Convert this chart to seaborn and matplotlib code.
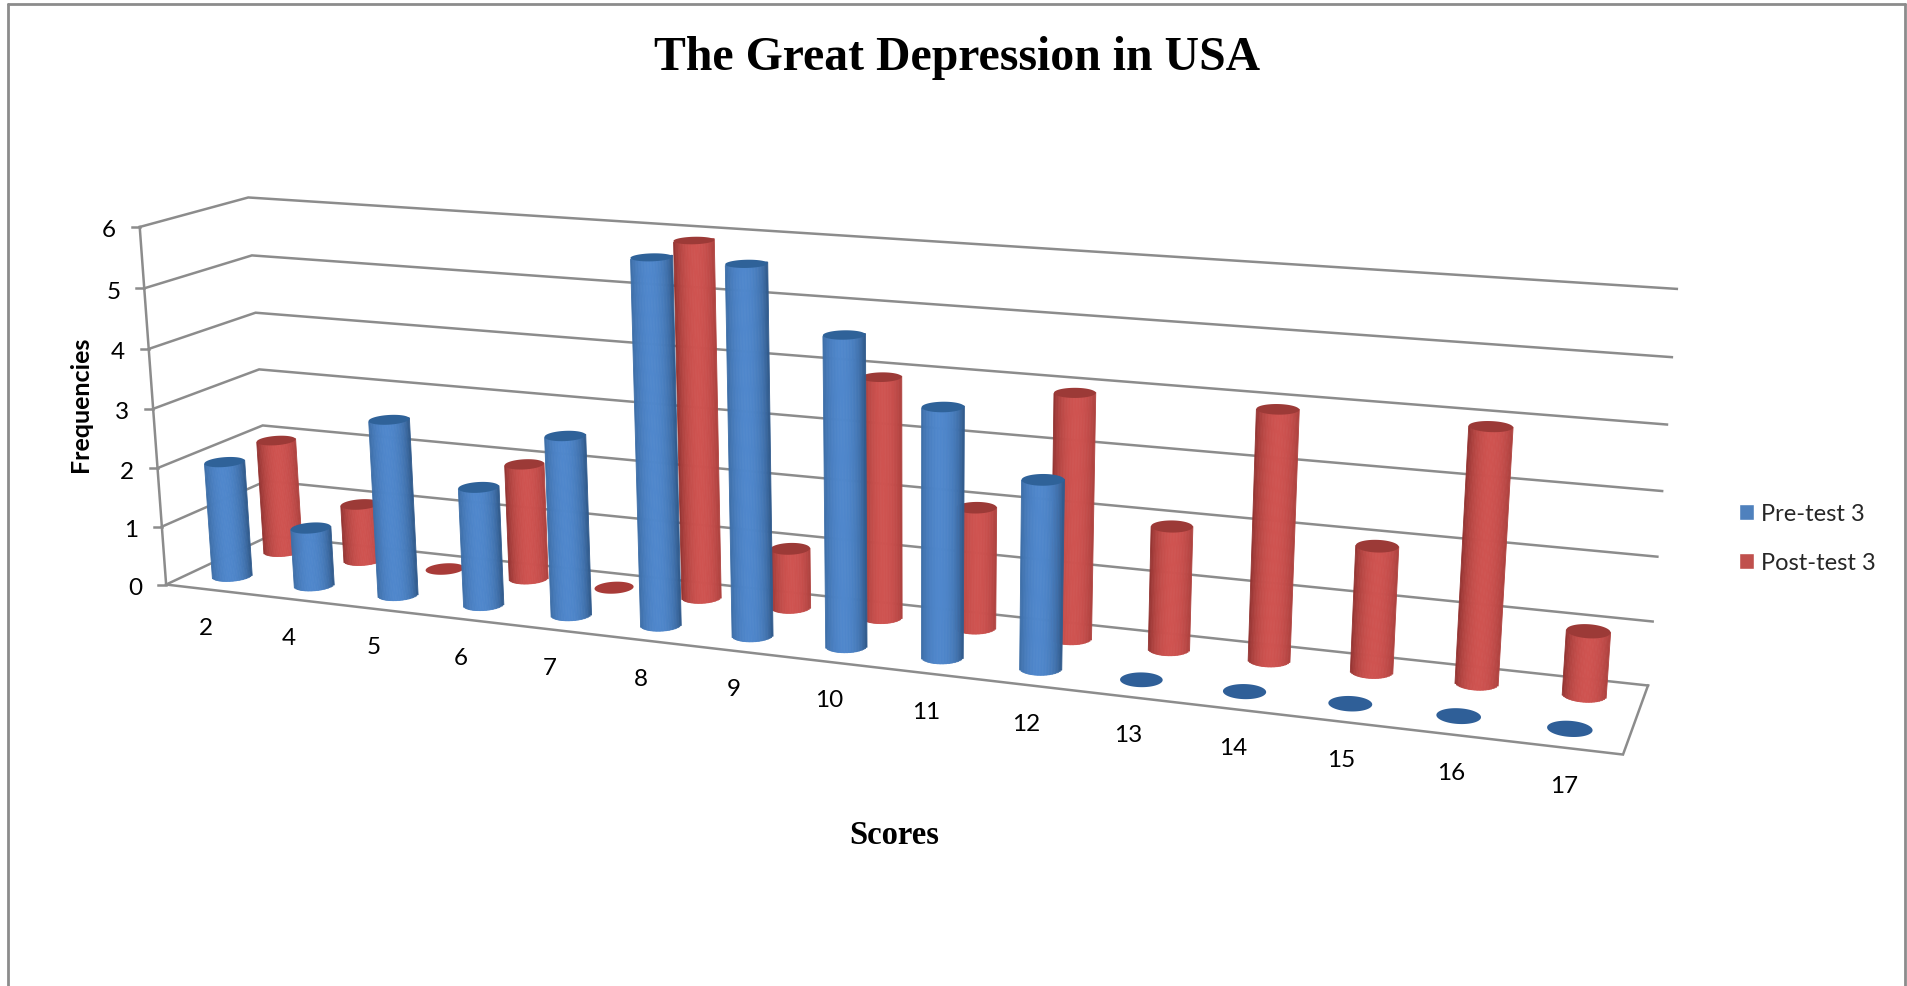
import numpy as np
import pandas as pd
import matplotlib
matplotlib.use("Agg")
import matplotlib.pyplot as plt
from matplotlib.colors import to_rgb
from matplotlib.lines import Line2D
from matplotlib.patches import Patch, Polygon
from matplotlib.transforms import Transform
import seaborn as sns

# Chart values
scores = ["2", "4", "5", "6", "7", "8", "9", "10", "11", "12", "13", "14", "15", "16", "17"]
pre_test = [2, 1, 3, 2, 3, 6, 6, 5, 4, 3, 0, 0, 0, 0, 0]
post_test = [2, 1, 0, 2, 0, 6, 1, 4, 2, 4, 2, 4, 2, 4, 1]
freq_ticks = [0, 1, 2, 3, 4, 5, 6]
series_names = ["Pre-test 3", "Post-test 3"]

WIDTH, HEIGHT = 1908, 987
X_SHIFT = 0.47          # bar centre within its category slot
R_X, R_D = 0.20, 0.11   # cylinder radius along the category and depth directions
DEPTH_PRE, DEPTH_POST = 0.26, 0.76
BAR_RISE = 0.985        # cylinders stop just short of the wall's gridlines
N_STRIPS = 28

sns.set_theme(style="white")
plt.rcParams["font.family"] = ["Lato", "DejaVu Sans"]

# Calibration of the oblique view: (category, depth, frequency) -> pixel position
view_world = np.array([
    (0, 0, 0), (0, 0, 3), (0, 0, 6), (0, 1, 6), (0, 1, 3), (0, 1, 0),
    (15, 0, 0), (15, 1, 0), (15, 1, 3), (15, 1, 6),
], dtype=float)
view_pixel = np.array([
    (166, 585), (153, 410), (140, 228), (248, 199), (259, 369), (270, 538),
    (1623, 756), (1648, 686), (1662, 492), (1677, 290),
], dtype=float)


def solve_camera(world, pixel):
    rows, rhs = [], []
    for (x, d, v), (px, py) in zip(world, pixel):
        rows.append([x, d, v, 1, 0, 0, 0, 0, -px * x, -px * d, -px * v])
        rhs.append(px)
        rows.append([0, 0, 0, 0, x, d, v, 1, -py * x, -py * d, -py * v])
        rhs.append(py)
    sol = np.linalg.lstsq(np.array(rows), np.array(rhs), rcond=None)[0]
    return np.append(sol, 1.0).reshape(3, 4)


CAMERA = solve_camera(view_world, view_pixel)


def project(x, d, v):
    """Map chart coordinates to figure fractions."""
    x, d, v = np.broadcast_arrays(np.asarray(x, float), np.asarray(d, float), np.asarray(v, float))
    hom = np.stack([x, d, v, np.ones_like(x)], axis=-1) @ CAMERA.T
    return np.stack([hom[..., 0] / hom[..., 2] / WIDTH,
                     1 - hom[..., 1] / hom[..., 2] / HEIGHT], axis=-1)


def rim_profile(slot, depth):
    """Half width of a cylinder in its mid-depth plane, and its lower rim as (x offset, v offset)."""
    step = 0.01
    x0 = slot + X_SHIFT
    origin = project(x0, depth, 0)
    along_x = (project(x0 + step, depth, 0) - origin) / step
    along_v = (project(x0, depth, step) - origin) / step
    along_d = (project(x0, depth + step, 0) - origin) / step
    a, b = np.linalg.solve(np.column_stack([along_x, along_v]), along_d)
    start = np.arctan2(a * R_D, R_X)
    theta = np.linspace(start - np.pi, start, 90)
    rim_x = R_X * np.cos(theta) + a * R_D * np.sin(theta)
    rim_v = b * R_D * np.sin(theta)
    return np.hypot(R_X, a * R_D), rim_x, rim_v


class DepthSlice(Transform):
    """Category/frequency plane at a fixed depth, seen through the oblique view."""
    input_dims = 2
    output_dims = 2

    def __init__(self, plane_depth):
        super().__init__()
        self.plane_depth = plane_depth

    def transform_non_affine(self, values):
        values = np.asarray(values, float)
        return project(values[:, 0] + X_SHIFT, self.plane_depth, values[:, 1] * BAR_RISE)


def cylinder_shades(edge, mid, peak):
    edge, mid = np.array(to_rgb(edge)), np.array(to_rgb(mid))
    u = (np.arange(N_STRIPS) + 0.5) / N_STRIPS * 2 - 1
    t = np.clip(1 - ((u - peak) / (1 + abs(peak))) ** 2, 0, 1) ** 0.7
    return [tuple(edge + (mid - edge) * k) for k in t]


fig = plt.figure(figsize=(WIDTH / 100, HEIGHT / 100), dpi=100, facecolor="white")
ax = fig.add_axes([0, 0, 1, 1])


def fig_line(xs, ys, color="#8c8c8c", lw=1.8, z=1):
    ax.plot(xs, ys, color=color, lw=lw, transform=fig.transFigure, clip_on=False,
            zorder=z, solid_capstyle="projecting", solid_joinstyle="miter")


def draw_series(values, depth, shades, cap_color, zero_color, z):
    strips = [f"s{k}" for k in range(N_STRIPS)]
    table = pd.DataFrame({
        "score": np.repeat(scores, N_STRIPS),
        "strip": strips * len(scores),
        "freq": np.repeat(values, N_STRIPS),
    })
    first = len(ax.patches)
    sns.barplot(data=table, x="score", y="freq", hue="strip", order=scores, hue_order=strips,
                palette=shades, dodge=True, width=2 * R_X, gap=0, saturation=1,
                errorbar=None, legend=False, ax=ax)
    # Every strip follows the lower rim of its cylinder and ends beneath the cap
    for rect in ax.patches[first:]:
        if rect.get_height() <= 0:
            rect.set_visible(False)
            continue
        centre = rect.get_x() + rect.get_width() / 2
        slot = round(centre)
        half, rim_x, rim_v = rim_profile(slot, depth)
        scale = half / R_X
        new_width = rect.get_width() * scale
        offset = (centre - slot) * scale
        lower = np.interp(offset, rim_x, rim_v)
        upper = -np.interp(-offset, rim_x, rim_v)
        rect.set_x(slot + offset - new_width / 2)
        rect.set_width(new_width)
        rect.set_y(lower)
        rect.set_height(rect.get_height() + (upper - lower) / 2)
        rect.set_transform(DepthSlice(depth) + fig.transFigure)
        rect.set_clip_on(False)
        rect.set_edgecolor(rect.get_facecolor())
        rect.set_linewidth(0.6)
        rect.set_zorder(z)
    # Elliptical caps, and flat discs for empty categories
    theta = np.linspace(0, 2 * np.pi, 80)
    for i, val in enumerate(values):
        outline = project(i + X_SHIFT + R_X * np.cos(theta), depth + R_D * np.sin(theta),
                          val * BAR_RISE)
        ax.add_patch(Polygon(outline, closed=True, transform=fig.transFigure, clip_on=False,
                             facecolor=cap_color if val > 0 else zero_color,
                             edgecolor="none", zorder=z + 0.1))


draw_series(post_test, DEPTH_POST, cylinder_shades("#8a2f2d", "#cf5350", 0.12),
            "#9c3a37", "#a83b38", 3)
draw_series(pre_test, DEPTH_PRE, cylinder_shades("#2d5583", "#4f87cc", -0.1),
            "#2f6299", "#2f5f98", 5)
ax.set_axis_off()

# Walls and floor
n_cat = len(scores)
for level in freq_ticks:
    left_front, left_back = project(0, 0, level), project(0, 1, level)
    right_back = project(n_cat, 1, level)
    fig_line([left_front[0], left_back[0], right_back[0]],
             [left_front[1], left_back[1], right_back[1]])
    tick_end = left_front[0] - 8 / WIDTH
    fig_line([tick_end, left_front[0]], [left_front[1], left_front[1]])
    ax.text(left_front[0] - 31 / WIDTH, left_front[1] - 3 / HEIGHT, str(level), fontsize=17.5,
            color="black", ha="center", va="center", transform=fig.transFigure)

axis_pts = np.array([project(0, 0, freq_ticks[0]), project(0, 0, freq_ticks[-1])])
fig_line(axis_pts[:, 0], axis_pts[:, 1])
floor_pts = np.array([project(0, 0, 0), project(n_cat, 0, 0), project(n_cat, 1, 0)])
fig_line(floor_pts[:, 0], floor_pts[:, 1])

# Category labels below the front edge
for i, label in enumerate(scores):
    px, py = project(i + 0.5, 0, 0)
    ax.text(px - 1 / WIDTH, py - 38 / HEIGHT, label, fontsize=17.5, color="black",
            ha="center", va="center", transform=fig.transFigure)

# Titles
fig.text(957 / WIDTH, 1 - 58 / HEIGHT, "The Great Depression in USA", family="Liberation Serif",
         weight="bold", fontsize=34.4, color="black", ha="center", va="center")
fig.text(894 / WIDTH, 1 - 836 / HEIGHT, "Scores", family="Liberation Serif", weight="bold",
         fontsize=23.5, color="black", ha="center", va="center")
fig.text(80 / WIDTH, 1 - 404 / HEIGHT, "Frequencies", weight="bold", fontsize=18,
         color="black", ha="center", va="center", rotation=90)

# Legend
handles = [Patch(facecolor="#4f81bd", label=series_names[0]),
           Patch(facecolor="#c0504d", label=series_names[1])]
fig.legend(handles=handles, loc="upper left", bbox_to_anchor=(1732 / WIDTH, 1 - 497 / HEIGHT),
           frameon=False, fontsize=17, handlelength=0.63, handleheight=0.63,
           handletextpad=0.3, labelspacing=1.2, borderaxespad=0, borderpad=0.3)

# Outer frame, open along the bottom
for xs, ys in [((8, 8), (HEIGHT, 5)), ((8, 1905), (5, 5)), ((1905, 1905), (5, HEIGHT))]:
    fig.add_artist(Line2D(np.array(xs) / WIDTH, 1 - np.array(ys) / HEIGHT,
                          color="#8c8c8c", lw=2))

fig.savefig("out.png", dpi=100, facecolor="white")
